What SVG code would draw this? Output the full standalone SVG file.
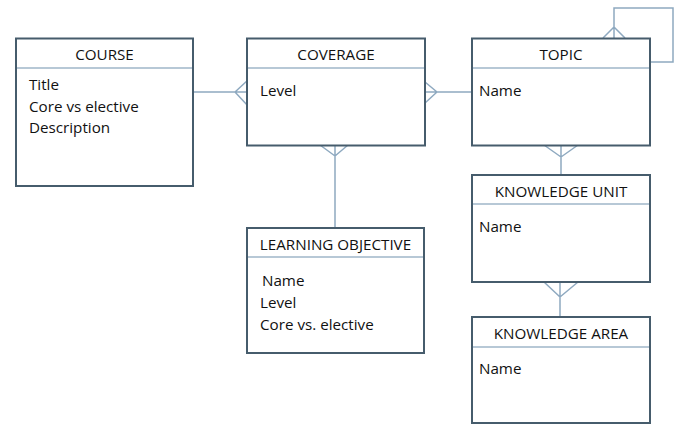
<svg xmlns="http://www.w3.org/2000/svg" width="678" height="433" viewBox="0 0 678 433">
<style>
.box{fill:#fff;stroke:#465c6c;stroke-width:2}
.div{stroke:#9fb6c8;stroke-width:1.3}
.con{fill:none;stroke:#8ea9c0;stroke-width:1.5}
.t{font-family:"Open Sans","Liberation Sans",sans-serif;font-size:15.2px;fill:#111}
.h{text-anchor:middle}
</style>
<rect width="678" height="433" fill="#fff"/>
<g id="connectors">
<path class="con" d="M193,92 H247 M235,92 L248,80 M235,92 L248,106"/>
<path class="con" d="M425,92 H472 M437,92 L425,82 M437,92 L425,103"/>
<path class="con" d="M335,145 V228 M335,156 L320,145 M335,156 L348,145"/>
<path class="con" d="M561,145 V175 M561,157 L544,145 M561,157 L578,145"/>
<path class="con" d="M560,282 V317 M560,297 L544,282 M560,297 L578,282"/>
<path class="con" d="M614,38 V8 H673 V62 H650 M614,27 L603,38 M614,27 L625,38"/>
</g>
<g id="course">
<rect class="box" x="16" y="38.5" width="177" height="147.5"/>
<line class="div" x1="17" y1="68" x2="192" y2="68"/>
<text class="t h" x="104.5" y="60">COURSE</text>
<text class="t" x="29" y="90">Title</text>
<text class="t" x="29" y="112">Core vs elective</text>
<text class="t" x="29" y="133">Description</text>
</g>
<g id="coverage">
<rect class="box" x="247" y="38.5" width="178" height="107"/>
<line class="div" x1="248" y1="68" x2="424" y2="68"/>
<text class="t h" x="336" y="60">COVERAGE</text>
<text class="t" x="260" y="96">Level</text>
</g>
<g id="topic">
<rect class="box" x="472" y="38.5" width="178" height="107"/>
<line class="div" x1="473" y1="68" x2="649" y2="68"/>
<text class="t h" x="561" y="60">TOPIC</text>
<text class="t" x="479" y="96">Name</text>
</g>
<g id="learning-objective">
<rect class="box" x="247" y="228" width="177" height="125"/>
<line class="div" x1="248" y1="257" x2="423" y2="257"/>
<text class="t h" x="335.5" y="250">LEARNING OBJECTIVE</text>
<text class="t" x="262" y="286">Name</text>
<text class="t" x="260" y="308">Level</text>
<text class="t" x="260" y="330">Core vs. elective</text>
</g>
<g id="knowledge-unit">
<rect class="box" x="472" y="175" width="178" height="107"/>
<line class="div" x1="473" y1="204" x2="649" y2="204"/>
<text class="t h" x="561" y="197">KNOWLEDGE UNIT</text>
<text class="t" x="479" y="232">Name</text>
</g>
<g id="knowledge-area">
<rect class="box" x="472" y="317" width="178" height="106"/>
<line class="div" x1="473" y1="347" x2="649" y2="347"/>
<text class="t h" x="561" y="339">KNOWLEDGE AREA</text>
<text class="t" x="479" y="374">Name</text>
</g>
</svg>
